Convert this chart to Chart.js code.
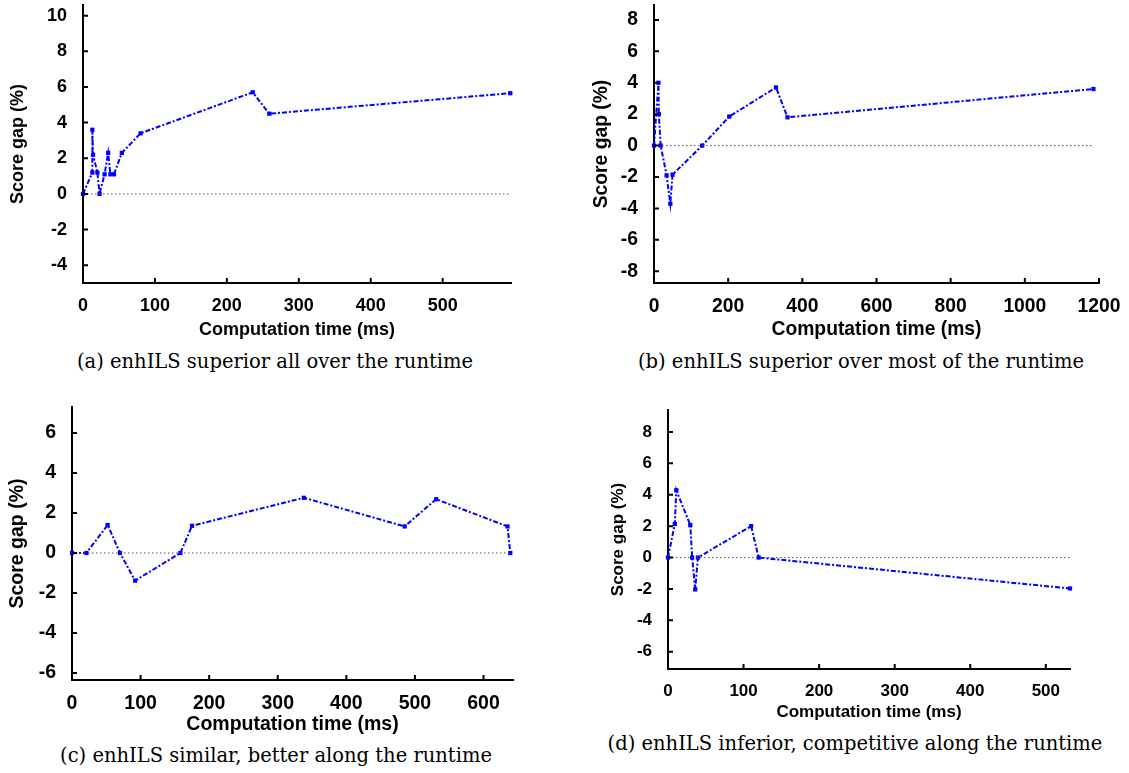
<!DOCTYPE html>
<html>
<head>
<meta charset="utf-8">
<script src="https://cdn.jsdelivr.net/npm/chart.js@4.4.1/dist/chart.umd.min.js"></script>
<style>
  body { margin: 0; background: #fff; width: 1129px; height: 773px; position: relative; overflow: hidden; }
  canvas { position: absolute; }
  .cap { position: absolute; font-family: "DejaVu Serif", serif; font-size: 19.5px; color: #000;
         white-space: nowrap; transform: translate(-50%, -50%); }
</style>
</head>
<body>
<canvas id="chartA" width="540" height="341" style="left:0;top:0"></canvas>
<canvas id="chartB" width="559" height="341" style="left:570px;top:0"></canvas>
<canvas id="chartC" width="540" height="356" style="left:0;top:380px"></canvas>
<canvas id="chartD" width="529" height="343" style="left:600px;top:380px"></canvas>
<div class="cap" style="left:275px;top:361px">(a) enhILS superior all over the runtime</div>
<div class="cap" style="left:861px;top:361px">(b) enhILS superior over most of the runtime</div>
<div class="cap" style="left:276px;top:755px">(c) enhILS similar, better along the runtime</div>
<div class="cap" style="left:855px;top:743px">(d) enhILS inferior, competitive along the runtime</div>
<script>
// computation time (ms) and score gap (%) per panel
const timeA = [0, 13, 13, 14, 20, 23, 30, 35, 38, 43, 54, 80, 236, 259, 594];
const gapA  = [0, 1.2, 3.6, 2.2, 1.2, 0, 1.1, 2.3, 1.1, 1.1, 2.3, 3.4, 5.7, 4.5, 5.65];

const timeB = [0, 12, 13, 18, 34, 44, 50, 130, 203, 329, 360, 1185];
const gapB  = [0, 4.0, 2.0, 0, -1.9, -3.7, -1.85, 0, 1.85, 3.7, 1.8, 3.6];

const timeC = [0, 21, 52, 70, 92, 158, 175, 338, 485, 531, 635, 639];
const gapC  = [0, 0, 1.4, 0, -1.38, 0, 1.36, 2.76, 1.33, 2.69, 1.33, 0];

const timeD = [0, 9, 11, 29.5, 32, 36, 39.6, 110, 120, 532];
const gapD  = [0, 2.14, 4.29, 2.07, 0, -2.03, 0, 2.0, 0, -1.97];

// tick labels
const xTicksA = [0, 100, 200, 300, 400, 500];
const yTicksA = [-4, -2, 0, 2, 4, 6, 8, 10];
const xTicksB = [0, 200, 400, 600, 800, 1000, 1200];
const yTicksB = [-8, -6, -4, -2, 0, 2, 4, 6, 8];
const xTicksC = [0, 100, 200, 300, 400, 500, 600];
const yTicksC = [-6, -4, -2, 0, 2, 4, 6];
const xTicksD = [0, 100, 200, 300, 400, 500];
const yTicksD = [-6, -4, -2, 0, 2, 4, 6, 8];

const xTitle = 'Computation time (ms)';
const yTitle = 'Score gap (%)';

// gnuplot style tics pointing into the plot
const inTicks = {
  id: 'inTicks',
  afterDraw(chart) {
    const { ctx, chartArea: { left, bottom }, scales: { x, y } } = chart;
    ctx.save();
    ctx.strokeStyle = '#000';
    ctx.lineWidth = 2;
    ctx.beginPath();
    x.ticks.forEach(t => {
      const px = x.getPixelForValue(t.value);
      ctx.moveTo(px, bottom);
      ctx.lineTo(px, bottom - 5);
    });
    y.ticks.forEach(t => {
      const py = y.getPixelForValue(t.value);
      ctx.moveTo(left, py);
      ctx.lineTo(left + 5, py);
    });
    ctx.stroke();
    ctx.restore();
  }
};

function makeChart(id, time, gap, xTicks, yTicks, o) {
  const font = { family: '"Liberation Sans", Arial, sans-serif', size: o.fs, weight: 'bold' };
  const pts = time.map((t, i) => ({ x: t, y: gap[i] }));
  return new Chart(document.getElementById(id), {
    type: 'scatter',
    data: {
      datasets: [{
        data: [{ x: time[0], y: 0 }, { x: time[time.length - 1], y: 0 }],
        showLine: true,
        borderColor: '#555',
        borderWidth: 1,
        borderDash: [1.5, 2.5],
        pointRadius: 0
      }, {
        data: pts,
        showLine: true,
        borderColor: '#0000ff',
        borderWidth: 2,
        borderDash: [5, 2, 2, 2],
        pointStyle: 'rect',
        pointRadius: 3,
        pointBackgroundColor: '#0000ff',
        pointBorderWidth: 0,
        clip: false
      }]
    },
    options: {
      responsive: false,
      animation: false,
      layout: { padding: { top: o.top, right: o.right, left: 0, bottom: 0 } },
      plugins: { legend: { display: false }, tooltip: { enabled: false } },
      scales: {
        x: {
          type: 'linear',
          min: 0,
          max: o.xMax,
          afterBuildTicks: s => { s.ticks = xTicks.map(v => ({ value: v })); },
          afterFit: s => { s.height = o.xH; s.paddingLeft = 0; s.paddingRight = 0; },
          grid: { display: false },
          border: { display: true, color: '#000', width: 2 },
          ticks: { font, color: '#000', padding: 4, maxRotation: 0, autoSkip: false,
                   callback: v => String(v) },
          title: { display: true, text: xTitle, font, color: '#000', padding: { top: 0, bottom: 0 } }
        },
        y: {
          type: 'linear',
          min: o.yMin,
          max: o.yMax,
          afterBuildTicks: s => { s.ticks = yTicks.map(v => ({ value: v })); },
          afterFit: s => { s.width = o.yW; s.paddingTop = 0; s.paddingBottom = 0; },
          grid: { display: false },
          border: { display: true, color: '#000', width: 2 },
          ticks: { font, color: '#000', padding: 8, autoSkip: false, callback: v => String(v) },
          title: { display: true, text: yTitle, font, color: '#000', padding: { top: o.tp, bottom: 0 } }
        }
      }
    },
    plugins: [inTicks]
  });
}

makeChart('chartA', timeA, gapA, xTicksA, yTicksA, { xMax: 595, yMin: -5, yMax: 10.6,
  top: 5, right: 29, yW: 83, xH: 58, tp: 7, fs: 18 });
makeChart('chartB', timeB, gapB, xTicksB, yTicksB, { xMax: 1200, yMin: -8.75, yMax: 8.95,
  top: 5, right: 30, yW: 84, xH: 58, tp: 20, fs: 19.3 });
makeChart('chartC', timeC, gapC, xTicksC, yTicksC, { xMax: 643, yMin: -6.35, yMax: 7.3,
  top: 27, right: 27, yW: 72, xH: 56, tp: 6, fs: 19.5 });
makeChart('chartD', timeD, gapD, xTicksD, yTicksD, { xMax: 532, yMin: -7.1, yMax: 9.4,
  top: 30, right: 59, yW: 68, xH: 54, tp: 8, fs: 17 });
</script>
</body>
</html>
